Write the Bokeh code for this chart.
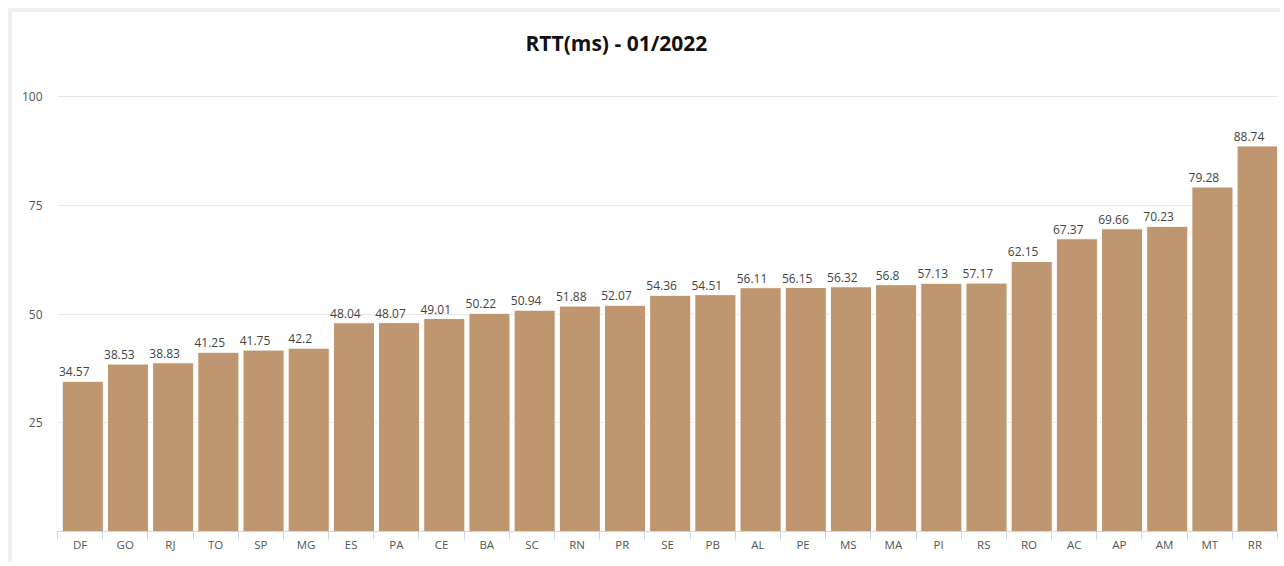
from bokeh.plotting import figure
from bokeh.models import FixedTicker, ColumnDataSource, Range1d, Label
from bokeh.core.properties import value
from bokeh.embed import file_html
from bokeh.resources import INLINE

states = ["DF", "GO", "RJ", "TO", "SP", "MG", "ES", "PA", "CE", "BA", "SC", "RN", "PR", "SE",
          "PB", "AL", "PE", "MS", "MA", "PI", "RS", "RO", "AC", "AP", "AM", "MT", "RR"]
rtt = [34.57, 38.53, 38.83, 41.25, 41.75, 42.2, 48.04, 48.07, 49.01, 50.22, 50.94, 51.88, 52.07, 54.36,
       54.51, 56.11, 56.15, 56.32, 56.8, 57.13, 57.17, 62.15, 67.37, 69.66, 70.23, 79.28, 88.74]
y_ticks = [25, 50, 75, 100]
title_text = "RTT(ms) - 01/2022"

FONT = "Open Sans"
n = len(states)
centers = [i + 0.5 for i in range(n)]
src = ColumnDataSource(dict(
    x=[c + 0.06 for c in centers],
    lx=[c - 0.13 for c in centers],
    top=rtt,
    label=[f"{v:g}" for v in rtt],
))

p = figure(width=1272, height=554, output_backend="svg", toolbar_location=None,
           x_range=Range1d(0, n), y_range=Range1d(0, 117.6),
           min_border_left=45, min_border_right=7, min_border_top=8, min_border_bottom=35,
           background_fill_color="white", border_fill_color="white", outline_line_color=None)
p.styles = {"margin-top": "8px", "margin-left": "8px",
            "border-top": "4px solid #efefef", "border-left": "4px solid #efefef"}

# title placed in the upper part of the frame
p.add_layout(Label(x=12.37, y=112.4, text=title_text, text_align="center", text_baseline="middle",
                   text_font=FONT, text_font_size="21px", text_font_style="bold",
                   text_color="#111111"))

p.vbar(x="x", top="top", width=0.91, bottom=0, source=src,
       fill_color="#BE9670", line_color="white", line_width=1)
p.text(x="lx", y="top", text="label", source=src, text_align="center", text_baseline="bottom",
       y_offset=-5, text_font=value(FONT), text_font_size="12px", text_color="#444444")

# x axis
p.xaxis.ticker = FixedTicker(ticks=centers, minor_ticks=list(range(n + 1)))
p.xaxis.major_label_overrides = {c: s for c, s in zip(centers, states)}
p.xaxis.major_tick_line_color = None
p.xaxis.major_tick_out = 0
p.xaxis.major_tick_in = 0
p.xaxis.minor_tick_out = 8
p.xaxis.minor_tick_in = 0
p.xaxis.minor_tick_line_color = "#ccd6eb"
p.xaxis.axis_line_color = "#ccd6eb"
p.xaxis.major_label_standoff = -3
p.xaxis.major_label_text_font = FONT
p.xaxis.major_label_text_font_size = "11.5px"
p.xaxis.major_label_text_color = "#555555"

# y axis
p.yaxis.ticker = FixedTicker(ticks=y_ticks)
p.yaxis.axis_line_color = None
p.yaxis.major_tick_line_color = None
p.yaxis.minor_tick_line_color = None
p.yaxis.major_label_standoff = 9
p.yaxis.major_label_text_font = FONT
p.yaxis.major_label_text_font_size = "12px"
p.yaxis.major_label_text_color = "#555555"

p.xgrid.grid_line_color = None
p.ygrid.ticker = FixedTicker(ticks=y_ticks)
p.ygrid.grid_line_color = "#e6e6e6"

open("out.html", "w").write(file_html(p, INLINE))
